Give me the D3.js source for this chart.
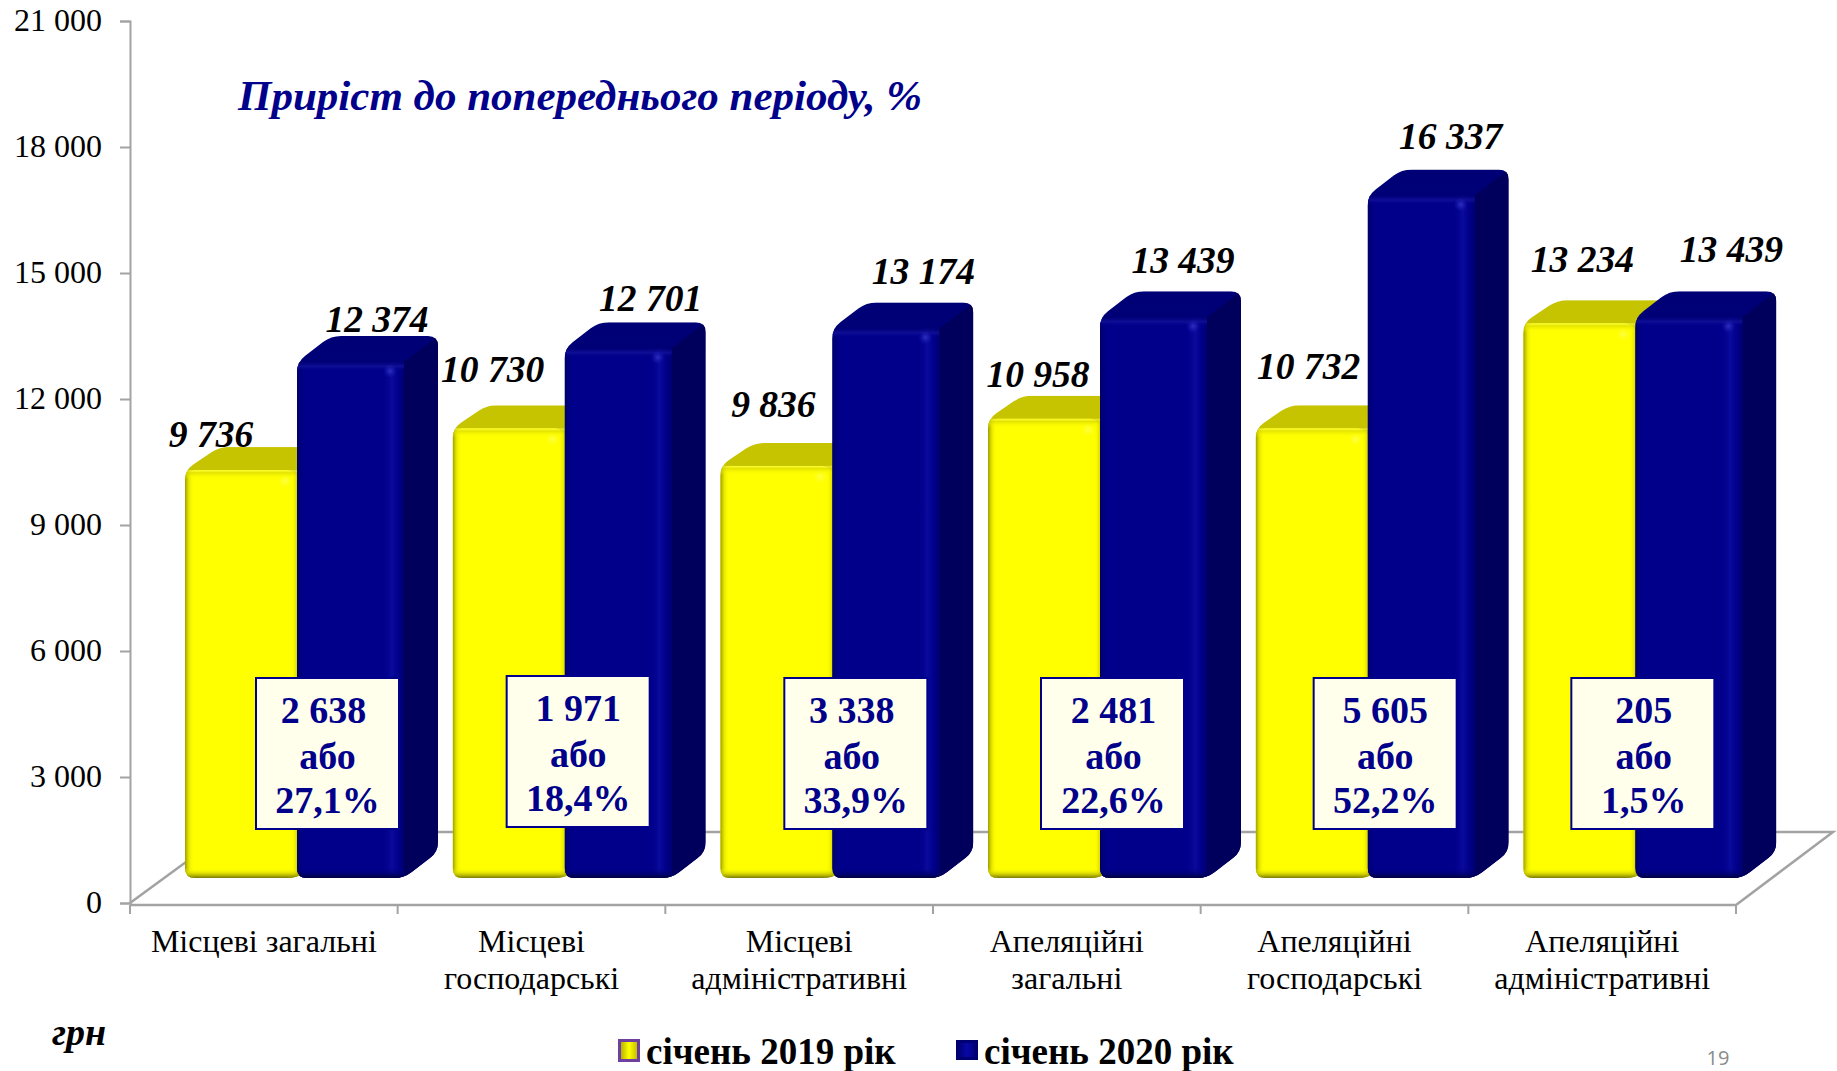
<!DOCTYPE html>
<html><head><meta charset="utf-8">
<script src="https://cdn.jsdelivr.net/npm/d3@7"></script>
<style>
html,body{margin:0;padding:0;background:#fff;overflow:hidden}
svg{display:block}
text{font-family:"Liberation Serif","Times New Roman",serif}
</style></head><body>
<svg id="c" width="1837" height="1071"></svg>
<script>
const categories=[["Місцеві загальні"],["Місцеві","господарські"],["Місцеві","адміністративні"],["Апеляційні","загальні"],["Апеляційні","господарські"],["Апеляційні","адміністративні"]];
const values2019=[9736,10730,9836,10958,10732,13234];
const values2020=[12374,12701,13174,13439,16337,13439];
const diffText=["2 638","1 971","3 338","2 481","5 605","205"];
const pctText=["27,1%","18,4%","33,9%","22,6%","52,2%","1,5%"];
const yTicks=[0,3000,6000,9000,12000,15000,18000,21000];
const years=["січень 2019 рік","січень 2020 рік"];
const title="Приріст до попереднього періоду, %";
const unit="грн";
const pageNo="19";

// label nudges, px (layout only)
const nudge2019=[[-30,-35],[-16,-58],[-3,-61],[-6,-44],[-3,-61],[3,-63]];
const nudge2020=[[24,-39],[30,-46],[35,-53],[27,-53],[27,-56],[40,-64]];
const boxLeft=[126,109,119,108,113,103];
const boxNudge=[[-4,0,0],[0,0,0],[-4,-4,0],[1,1,1],[0,0,0],[1,1,1]];

const svg=d3.select("#c");
const defs=svg.append("defs");
const fmt=v=>d3.format(",")(v).replace(/,/g," ");
const idx=categories.map((_,i)=>i);
const axisColor="#a3a3a3", navy="#00008b";

const x=d3.scaleBand().domain(idx).range([130,1736]);
const y=d3.scaleLinear().domain([0,21000]).range([903,21]);
const sub=d3.scaleBand().domain([0,1]).range([55,279]);
const baseShift=y(0)-878;           // bars stand in the middle of the floor
const topDrop=[1,3.7];              // bevel makes the visible top sit a little lower
const floorD={dx:97,dy:-73};
const depth=[{dx:34,dy:-23},{dx:34,dy:-26}];
const frontW=[112,107];

function grad(id,stops,dir){
  const g=defs.append("linearGradient").attr("id",id)
   .attr("x1",0).attr("y1",0).attr("x2",dir==="h"?1:0).attr("y2",dir==="h"?0:1);
  stops.forEach(s=>g.append("stop").attr("offset",s[0]).attr("stop-color",s[1]).attr("stop-opacity",s[2]));
}
grad("yL",[[0,"#8f8f00",.9],[.45,"#d8d800",.6],[1,"#ffff00",0]],"h");
grad("yB",[[0,"#ffff00",0],[.55,"#c8c800",.7],[1,"#77770a",1]],"v");
grad("yT",[[0,"#fbfb60",.5],[.3,"#d8d800",.7],[1,"#ffff00",0]],"v");
grad("yR",[[0,"#ffff00",0],[1,"#d0d000",.8]],"h");
grad("bL",[[0,"#000060",.9],[1,"#00008b",0]],"h");
grad("bB",[[0,"#00008b",0],[.6,"#000068",.7],[1,"#00003a",1]],"v");
grad("bT",[[0,"#000070",.7],[.5,"#101098",.9],[1,"#00008b",0]],"v");
grad("bR",[[0,"#00008b",0],[.45,"#0a0a9c",1],[.75,"#00008b",1],[1,"#000070",1]],"h");
grad("bTop",[[0,"#000076",1],[1,"#000082",1]],"v");
grad("yTop",[[0,"#c6c300",1],[1,"#c9c600",1]],"v");
grad("lgY",[[0,"#a8a400",1],[.5,"#ffff00",1],[1,"#b8b400",1]],"h");
grad("lgB",[[0,"#000070",1],[.5,"#0808a8",1],[1,"#000070",1]],"h");
const glow=defs.append("radialGradient").attr("id","gl");
glow.append("stop").attr("offset",0).attr("stop-color","#4040d0").attr("stop-opacity",.7);
glow.append("stop").attr("offset",1).attr("stop-color","#2020c0").attr("stop-opacity",0);
const glowY=defs.append("radialGradient").attr("id","glY");
glowY.append("stop").attr("offset",0).attr("stop-color","#ffff90").attr("stop-opacity",.5);
glowY.append("stop").attr("offset",1).attr("stop-color","#ffff40").attr("stop-opacity",0);

// y axis
const yAxis=d3.axisLeft(y).tickValues(yTicks).tickFormat(fmt).tickSize(10).tickPadding(18);
const ga=svg.append("g").attr("transform","translate(130,0)").call(yAxis);
ga.selectAll("path").attr("stroke",axisColor).attr("stroke-width",2);
ga.selectAll("line").attr("stroke",axisColor).attr("stroke-width",2);
ga.selectAll("text").attr("font-size",32).attr("fill","#000").attr("font-family","Liberation Serif").attr("dy","0.29em");

// floor
const x0=x.range()[0],x1=x.range()[1],yf=y(0)+2;
svg.append("path").attr("fill","none").attr("stroke",axisColor).attr("stroke-width",2.5)
 .attr("d",d3.line()([[x0,y(0)],[x0+floorD.dx,y(0)+floorD.dy+2],[x1+floorD.dx,y(0)+floorD.dy+2],[x1,yf],[x0,yf]]));
idx.concat([idx.length]).forEach(i=>{
  const tx=i<idx.length?x(i):x1;
  svg.append("line").attr("x1",tx).attr("x2",tx).attr("y1",yf).attr("y2",yf+9).attr("stroke",axisColor).attr("stroke-width",2);
});

function rounded(pts,r){
  const p=d3.path();const n=pts.length;
  pts.forEach((c,i)=>{
    const a=pts[(i-1+n)%n],b=pts[(i+1)%n];
    const la=Math.hypot(a[0]-c[0],a[1]-c[1]),lb=Math.hypot(b[0]-c[0],b[1]-c[1]);
    const ra=Math.min(r,la/2),rb=Math.min(r,lb/2);
    const s=[c[0]+(a[0]-c[0])*ra/la,c[1]+(a[1]-c[1])*ra/la];
    const e=[c[0]+(b[0]-c[0])*rb/lb,c[1]+(b[1]-c[1])*rb/lb];
    if(i===0)p.moveTo(s[0],s[1]);else p.lineTo(s[0],s[1]);
    p.quadraticCurveTo(c[0],c[1],e[0],e[1]);
  });
  p.closePath();return p.toString();
}
let clipN=0;
function bar(i,s,v){
  const l=x(i)+sub(s),w=frontW[s],t=y(v)-baseShift+topDrop[s],b=y(0)-baseShift;
  const r=l+w,dx=depth[s].dx,dy=depth[s].dy;
  const id="cl"+(clipN++);
  defs.append("clipPath").attr("id",id).append("path")
   .attr("d",rounded([[l,b],[l,t],[l+dx,t+dy],[r+dx,t+dy],[r+dx,b+dy],[r,b]],10));
  const g=svg.append("g").attr("clip-path",`url(#${id})`);
  const Y=s===0;
  g.append("rect").attr("x",l).attr("y",t+dy).attr("width",w+dx).attr("height",b-t-dy)
   .attr("fill",Y?"url(#yTop)":"url(#bTop)");
  g.append("path").attr("d",d3.line()([[r,t],[r+dx,t+dy],[r+dx,b+dy],[r,b]]))
   .attr("fill",Y?"#a8a800":"#00005c");
  g.append("path").attr("d",rounded([[l,t],[r,t],[r,b],[l,b]],10)).attr("fill",Y?"#ffff00":"#00008b");
  const k=Y?"y":"b";
  g.append("rect").attr("x",l).attr("y",t).attr("width",9).attr("height",b-t).attr("fill",`url(#${k}L)`);
  g.append("rect").attr("x",r-(Y?6:22)).attr("y",t).attr("width",Y?6:22).attr("height",b-t).attr("fill",`url(#${k}R)`);
  g.append("rect").attr("x",l).attr("y",t).attr("width",w).attr("height",9).attr("fill",`url(#${k}T)`);
  g.append("rect").attr("x",l).attr("y",b-10).attr("width",w).attr("height",10).attr("fill",`url(#${k}B)`);
  g.append("circle").attr("cx",r-(Y?12:14)).attr("cy",t+(Y?11:9)).attr("r",7).attr("fill",Y?"url(#glY)":"url(#gl)");
}
idx.forEach(i=>{bar(i,0,values2019[i]);bar(i,1,values2020[i]);});

// value labels
function valLabel(i,s,v,n){
  const cx=x(i)+sub(s)+sub.bandwidth()/2+n[0], cy=y(v)-baseShift+n[1];
  svg.append("text").attr("x",cx).attr("y",cy).attr("dy","0.34em").attr("text-anchor","middle")
   .attr("font-size",37.5).attr("font-weight","bold").attr("font-style","italic").attr("fill","#000").text(fmt(v));
}
idx.forEach(i=>{valLabel(i,0,values2019[i],nudge2019[i]);valLabel(i,1,values2020[i],nudge2020[i]);});

// increment boxes
const boxes=svg.append("g").selectAll("g").data(idx).join("g")
 .attr("transform",i=>`translate(${x(i)+boxLeft[i]},${i===1?676:678})`);
boxes.append("rect").attr("width",143).attr("height",151)
 .attr("fill","#ffffeb").attr("stroke",navy).attr("stroke-width",2);
const boxLine=(ln,dy,fn)=>boxes.append("text").attr("x",i=>71.5+boxNudge[i][ln]).attr("y",dy).attr("text-anchor","middle")
 .attr("font-size",38).attr("font-weight","bold").attr("fill",navy).text(fn);
boxLine(0,45,i=>diffText[i]);
boxLine(1,91,()=>"або");
boxLine(2,135,i=>pctText[i]);

// category labels
svg.append("g").selectAll("text").data(idx).join("text")
 .attr("text-anchor","middle").attr("font-size",32).attr("fill","#000")
 .each(function(i){
   d3.select(this).selectAll("tspan").data(categories[i]).join("tspan")
    .attr("x",x(i)+x.bandwidth()/2).attr("y",(d,j)=>952+j*37).text(d=>d);
 });

// title, unit, legend, page number
svg.append("text").attr("x",238).attr("y",110).attr("font-size",43).attr("font-weight","bold")
 .attr("font-style","italic").attr("fill",navy).text(title);
svg.append("text").attr("x",52).attr("y",1045).attr("font-size",38).attr("font-weight","bold")
 .attr("font-style","italic").attr("fill","#000").text(unit);

const lg=[{x:618,w:22,y:1039,h:23,f:"url(#lgY)",s:"#7040a0",t:646},{x:956,w:22,y:1040,h:20,f:"url(#lgB)",s:"#000070",t:984}];
lg.forEach((d,i)=>{
  svg.append("rect").attr("x",d.x+1.5).attr("y",d.y+1.5).attr("width",d.w-3).attr("height",d.h-3)
   .attr("fill",d.f).attr("stroke",d.s).attr("stroke-width",3);
  svg.append("text").attr("x",d.t).attr("y",1064).attr("font-size",37).attr("font-weight","bold")
   .attr("fill","#000").text(years[i]);
});
svg.append("text").attr("x",1718).attr("y",1065).attr("text-anchor","middle").attr("font-size",20)
 .attr("fill","#8b8b8b").style("font-family","'Open Sans'").text(pageNo);
</script>
</body></html>
